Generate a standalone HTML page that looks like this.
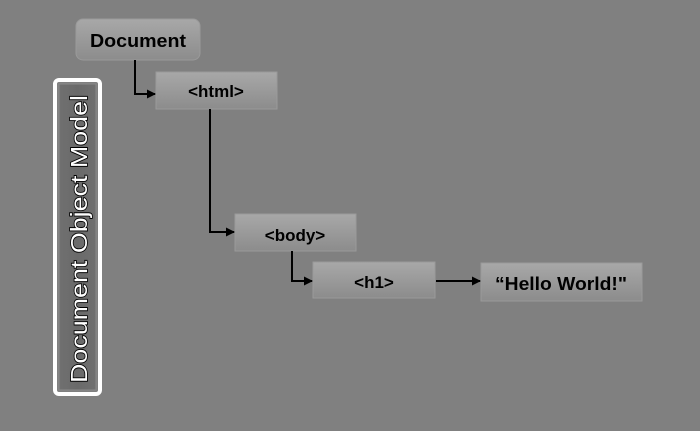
<!DOCTYPE html>
<html><head><style>
body{margin:0;width:700px;height:426px;background:#808080;overflow:hidden;font-family:"Liberation Sans",sans-serif;}
</style></head><body>
<svg width="700" height="426" xmlns="http://www.w3.org/2000/svg">
<defs>
<linearGradient id="g" x1="0" y1="0" x2="0" y2="1">
<stop offset="0" stop-color="#a8a8a8"/><stop offset="1" stop-color="#8c8c8c"/>
</linearGradient>
<linearGradient id="v" x1="0" y1="0" x2="1" y2="0">
<stop offset="0" stop-color="#707070"/><stop offset="0.5" stop-color="#6a6a6a"/><stop offset="1" stop-color="#707070"/>
</linearGradient>
<marker id="a" markerWidth="9" markerHeight="9" refX="8" refY="4.5" orient="auto" markerUnits="userSpaceOnUse">
<path d="M0,0 L9,4.5 L0,9 z" fill="#000"/></marker>
</defs>
<rect x="76" y="19" width="124" height="41" rx="7" fill="url(#g)" stroke="#9a9a9a"/>
<text x="138" y="47" font-size="18" font-weight="bold" text-anchor="middle" textLength="96" lengthAdjust="spacingAndGlyphs">Document</text>
<rect x="156" y="72" width="121" height="37" fill="url(#g)" stroke="#9a9a9a"/>
<text x="216" y="97" font-size="17" font-weight="bold" text-anchor="middle">&lt;html&gt;</text>
<rect x="235" y="214" width="121" height="37" fill="url(#g)" stroke="#9a9a9a"/>
<text x="295" y="241" font-size="17" font-weight="bold" text-anchor="middle">&lt;body&gt;</text>
<rect x="313" y="262" width="122" height="36" fill="url(#g)" stroke="#9a9a9a"/>
<text x="374" y="288" font-size="17" font-weight="bold" text-anchor="middle">&lt;h1&gt;</text>
<rect x="481" y="263" width="161" height="38" fill="url(#g)" stroke="#9a9a9a"/>
<text x="561" y="290" font-size="18" font-weight="bold" text-anchor="middle" textLength="132" lengthAdjust="spacingAndGlyphs">“Hello World!"</text>
<g stroke="#000" stroke-width="2" fill="none">
<polyline points="135,60 135,94 155,94" marker-end="url(#a)"/>
<polyline points="210,109 210,232 234,232" marker-end="url(#a)"/>
<polyline points="292,251 292,281 312,281" marker-end="url(#a)"/>
<polyline points="436,281 480,281" marker-end="url(#a)"/>
</g>
<rect x="55" y="80" width="45" height="314" rx="4" fill="none" stroke="#fff" stroke-width="4"/>
<rect x="59" y="84" width="37" height="306" fill="url(#v)" stroke="#8a8a8a"/>
<text transform="translate(87,383) rotate(-90)" font-size="23" fill="#fff" stroke="#000" stroke-width="1.6" paint-order="stroke" textLength="288" lengthAdjust="spacingAndGlyphs">Document Object Model</text>
</svg>
</body></html>
